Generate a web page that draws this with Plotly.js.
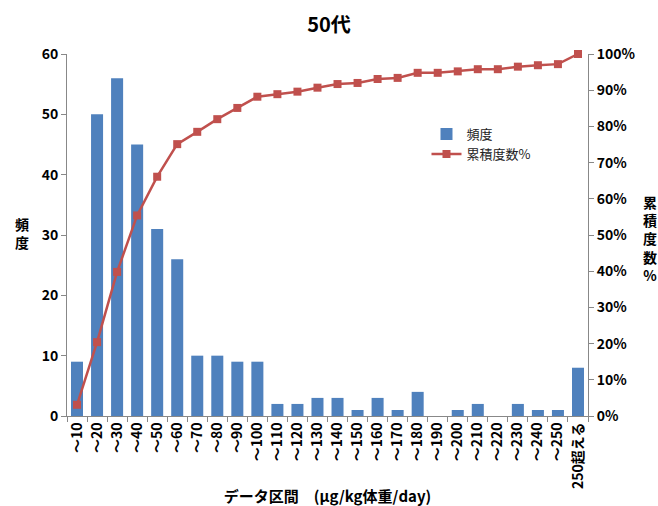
<!DOCTYPE html>
<html><head><meta charset="utf-8">
<script src="https://cdn.plot.ly/plotly-3.0.1.min.js"></script>
<style>html,body{margin:0;padding:0;background:#fff}#c{width:658px;height:506px}</style>
</head><body><div id="c"></div>
<script>
const categories = ["～10","～20","～30","～40","～50","～60","～70","～80","～90","～100","～110","～120","～130","～140","～150","～160","～170","～180","～190","～200","～210","～220","～230","～240","～250","250超える"];
const frequency = [9,50,56,45,31,26,10,10,9,9,2,2,3,3,1,3,1,4,0,1,2,0,2,1,1,8];
const cumulativePct = [0.031,0.204,0.398,0.554,0.661,0.751,0.785,0.820,0.851,0.882,0.889,0.896,0.907,0.917,0.920,0.931,0.934,0.948,0.948,0.952,0.958,0.958,0.965,0.969,0.972,1.000];

const fontFam = '"Noto Sans CJK JP", "DejaVu Sans", sans-serif';
const traces = [
  {type:'bar', x:categories, y:frequency, name:'頻度', marker:{color:'#4F81BD'}, yaxis:'y'},
  {type:'scatter', mode:'lines+markers', x:categories, y:cumulativePct, name:'累積度数%', yaxis:'y2', cliponaxis:false,
   line:{color:'#C0504D', width:2.5}, marker:{symbol:'square', size:8, color:'#C0504D'}}
];
const layout = {
  width:658, height:506,
  margin:{l:67, r:70, t:54, b:90},
  paper_bgcolor:'#fff', plot_bgcolor:'#fff',
  font:{family:fontFam, color:'#000'},
  title:{text:'<b>50代</b>', x:0.5, xanchor:'center', y:0.95, yanchor:'middle', font:{size:20, family:fontFam}},
  bargap:0.4,
  showlegend:true,
  legend:{x:0.69, y:0.82, xanchor:'left', yanchor:'top', font:{size:13, family:fontFam, color:'#222'}, bgcolor:'rgba(0,0,0,0)', tracegroupgap:8},
  xaxis:{type:'category', range:[-0.5, categories.length-0.5], tickangle:-90, tickson:'boundaries', ticks:'outside', ticklen:5, tickcolor:'#888',
         showline:true, linecolor:'#888', showgrid:false, zeroline:false,
         tickfont:{size:14, family:fontFam, weight:'bold'},
         title:{text:'<b>データ区間　(μg/kg体重/day)</b>', font:{size:15, family:fontFam}, standoff:8}},
  yaxis:{range:[0,60], dtick:10, ticks:'outside', ticklen:5, tickcolor:'#888', showline:true, linecolor:'#888',
         showgrid:false, zeroline:false, tickfont:{size:14, family:fontFam, weight:'bold'}},
  yaxis2:{range:[0,1], dtick:0.1, tickformat:'.0%', overlaying:'y', side:'right', ticks:'outside', ticklen:5,
          tickcolor:'#888', showline:true, linecolor:'#888', showgrid:false, zeroline:false,
          tickfont:{size:14, family:fontFam, weight:'bold'}},
  annotations:[
    {text:'<b>頻<br>度</b>', xref:'paper', yref:'paper', x:-0.086, y:0.505, xanchor:'center', yanchor:'middle', showarrow:false, font:{size:14, family:fontFam}},
    {text:'<b>累<br>積<br>度<br>数<br>%</b>', xref:'paper', yref:'paper', x:1.119, y:0.49, xanchor:'center', yanchor:'middle', showarrow:false, font:{size:14, family:fontFam}}
  ]
};
Plotly.newPlot('c', traces, layout, {displayModeBar:false});
</script></body></html>
